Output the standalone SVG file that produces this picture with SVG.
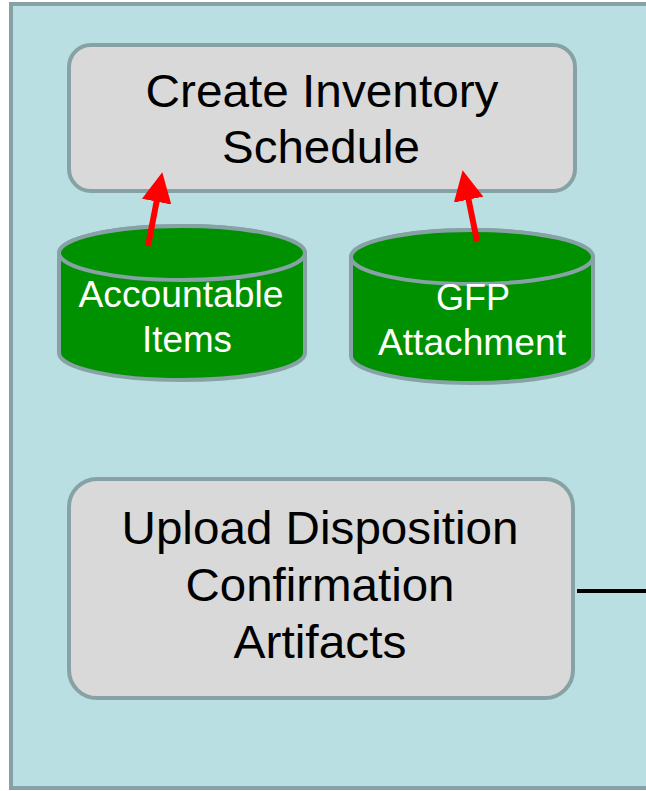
<svg xmlns="http://www.w3.org/2000/svg" width="646" height="791" viewBox="0 0 646 791">
<defs>
<style>
.frame{fill:#b9dfe2;stroke:#87a2a5;stroke-width:4}
.proc{fill:#d9d9d9;stroke:#87a2a5;stroke-width:4}
.cyl{fill:#009100;stroke:#87a2a5;stroke-width:4}
.pt{font-family:"Liberation Sans",Arial,sans-serif;font-size:47px;fill:#000;text-anchor:middle}
.ct{font-family:"Liberation Sans",Arial,sans-serif;font-size:36px;fill:#fff;text-anchor:middle}
.red{stroke:#ff0000;stroke-width:6;fill:none}
</style>
<marker id="ah" markerWidth="5" markerHeight="5" refX="3" refY="2.5" orient="auto" markerUnits="strokeWidth" viewBox="0 0 5 5">
<path d="M0,0 L5,2.5 L0,5 z" fill="#ff0000"/>
</marker>
</defs>
<rect x="0" y="0" width="646" height="791" fill="#ffffff"/>
<rect class="frame" x="11" y="4" width="660" height="784"/>
<g id="create-inventory">
<rect class="proc" x="69" y="45" width="506" height="146" rx="22"/>
<text class="pt" x="322" y="107" textLength="353" lengthAdjust="spacingAndGlyphs">Create Inventory</text>
<text class="pt" x="321" y="163" textLength="198" lengthAdjust="spacingAndGlyphs">Schedule</text>
</g>
<g id="accountable-items">
<path class="cyl" d="M59,253 L59,353 A123,27 0 0 0 305,353 L305,253 A123,27 0 0 0 59,253 Z"/>
<ellipse class="cyl" cx="182" cy="253" rx="123" ry="27"/>
<text class="ct" x="181" y="307" textLength="205" lengthAdjust="spacingAndGlyphs">Accountable</text>
<text class="ct" x="187" y="352" textLength="90" lengthAdjust="spacingAndGlyphs">Items</text>
</g>
<g id="gfp-attachment">
<path class="cyl" d="M351,257 L351,356 A121,27 0 0 0 593,356 L593,257 A121,27 0 0 0 351,257 Z"/>
<ellipse class="cyl" cx="472" cy="257" rx="121" ry="27"/>
<text class="ct" x="473" y="310" textLength="74" lengthAdjust="spacingAndGlyphs">GFP</text>
<text class="ct" x="472" y="355" textLength="188" lengthAdjust="spacingAndGlyphs">Attachment</text>
</g>
<g id="upload-disposition">
<rect class="proc" x="69" y="479" width="504" height="219" rx="28"/>
<text class="pt" x="320" y="544" textLength="397" lengthAdjust="spacingAndGlyphs">Upload Disposition</text>
<text class="pt" x="320" y="601" textLength="269" lengthAdjust="spacingAndGlyphs">Confirmation</text>
<text class="pt" x="320" y="658" textLength="173" lengthAdjust="spacingAndGlyphs">Artifacts</text>
</g>
<g id="connectors">
<line class="red" x1="148" y1="246" x2="160" y2="184" marker-end="url(#ah)"/>
<line class="red" x1="477" y1="241" x2="465" y2="182" marker-end="url(#ah)"/>
<line x1="577" y1="591" x2="646" y2="591" stroke="#000" stroke-width="4"/>
</g>
</svg>
